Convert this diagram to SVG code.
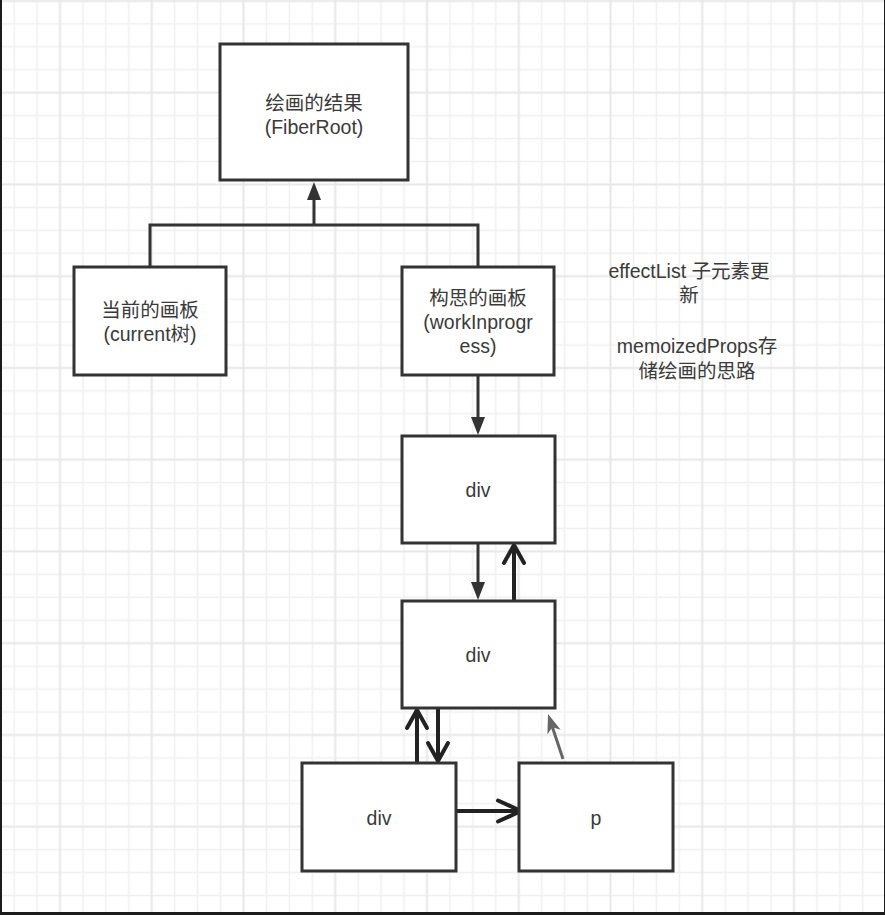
<svg xmlns="http://www.w3.org/2000/svg" width="885" height="915" viewBox="0 0 885 915">
  <defs>
    <pattern id="grid" patternUnits="userSpaceOnUse" x="2.65" y="35.35" width="91.75" height="91.75">
      <path d="M11.47,0V91.75M34.41,0V91.75M80.28,0V91.75M0,11.47H91.75M0,34.41H91.75M0,80.28H91.75" stroke="#f0f0f0" stroke-width="1.5" fill="none"/>
      <path d="M57.35,0V91.75M0,57.35H91.75" stroke="#e7e7e7" stroke-width="2" fill="none"/>
    </pattern>
    <marker id="tri" markerUnits="userSpaceOnUse" markerWidth="40" markerHeight="40" refX="0" refY="0" viewBox="-20 -20 40 40" orient="auto" overflow="visible">
      <path d="M-1,-7 L17,0 L-1,7 Z" fill="#333"/>
    </marker>
    <marker id="open" markerUnits="userSpaceOnUse" markerWidth="60" markerHeight="60" refX="0" refY="0" viewBox="-30 -30 60 60" orient="auto" overflow="visible">
      <path d="M-18,-10 L0,0 L-18,10" fill="none" stroke="#222" stroke-width="4" stroke-linecap="round" stroke-linejoin="round"/>
    </marker>
    <marker id="openL" markerUnits="userSpaceOnUse" markerWidth="60" markerHeight="60" refX="0" refY="0" viewBox="-30 -30 60 60" orient="auto" overflow="visible">
      <path d="M-23,-10.5 L0,0 L-23,10.5" fill="none" stroke="#222" stroke-width="4" stroke-linecap="round" stroke-linejoin="round"/>
    </marker>
    <marker id="dart" markerUnits="userSpaceOnUse" markerWidth="40" markerHeight="40" refX="0" refY="0" viewBox="-20 -20 40 40" orient="auto" overflow="visible">
      <path d="M10,0 L-9,-7 L-4,0 L-9,7 Z" fill="#666"/>
    </marker>
  </defs>
  <style>
    .box { fill: #ffffff; stroke: #333333; stroke-width: 3; }
    .lbl { font-family: "Liberation Sans", "Noto Sans CJK SC", sans-serif; font-size: 19.5px; fill: #3a3a3a; text-anchor: middle; }
    .ln { fill: none; stroke: #333333; stroke-width: 3; }
    .thick { fill: none; stroke: #222222; stroke-width: 4; }
  </style>

  <rect x="0" y="0" width="885" height="915" fill="#ffffff"/>
  <rect x="0" y="0" width="885" height="915" fill="url(#grid)"/>

  <g id="connectors">
    <polyline class="ln" points="150,267 150,225 478,225 478,267"/>
    <line class="ln" x1="314" y1="225" x2="314" y2="199" marker-end="url(#tri)"/>
    <line class="ln" x1="478" y1="375" x2="478" y2="418" marker-end="url(#tri)"/>
    <line class="ln" x1="478" y1="543" x2="478" y2="583" marker-end="url(#tri)"/>
    <line class="thick" x1="514" y1="601" x2="514" y2="545" marker-end="url(#open)"/>
    <line class="thick" x1="417" y1="763" x2="417" y2="710" marker-end="url(#open)"/>
    <line class="thick" x1="438" y1="708" x2="438" y2="761" marker-end="url(#open)"/>
    <line class="thick" x1="453" y1="811" x2="521" y2="811" marker-end="url(#openL)"/>
    <line x1="563" y1="759" x2="551.2" y2="723.5" stroke="#666666" stroke-width="3" marker-end="url(#dart)"/>
  </g>

  <g id="fiberroot">
    <rect class="box" x="220" y="44" width="188" height="136"/>
    <text class="lbl" x="314" y="110">绘画的结果</text>
    <text class="lbl" x="314" y="134">(FiberRoot)</text>
  </g>
  <g id="current">
    <rect class="box" x="74" y="267" width="152" height="108"/>
    <text class="lbl" x="150" y="317">当前的画板</text>
    <text class="lbl" x="150" y="341">(current树)</text>
  </g>
  <g id="workinprogress">
    <rect class="box" x="402" y="267" width="152" height="108"/>
    <text class="lbl" x="478" y="305">构思的画板</text>
    <text class="lbl" x="478" y="329">(workInprogr</text>
    <text class="lbl" x="478" y="353">ess)</text>
  </g>
  <g id="div1">
    <rect class="box" x="402" y="436" width="153" height="107"/>
    <text class="lbl" x="478" y="497">div</text>
  </g>
  <g id="div2">
    <rect class="box" x="402" y="601" width="153" height="107"/>
    <text class="lbl" x="478" y="662">div</text>
  </g>
  <g id="div3">
    <rect class="box" x="302" y="763" width="154" height="108"/>
    <text class="lbl" x="379" y="825">div</text>
  </g>
  <g id="p">
    <rect class="box" x="519" y="763" width="154" height="108"/>
    <text class="lbl" x="596" y="825">p</text>
  </g>
  <g id="note-effectlist">
    <text class="lbl" x="689" y="278">effectList 子元素更</text>
    <text class="lbl" x="689" y="302">新</text>
  </g>
  <g id="note-memoized">
    <text class="lbl" x="697" y="353">memoizedProps存</text>
    <text class="lbl" x="697" y="378">储绘画的思路</text>
  </g>

  <g id="frame">
    <rect x="0" y="0" width="2" height="915" fill="#1c1c1c"/>
    <rect x="884" y="0" width="1" height="915" fill="#1c1c1c"/>
    <rect x="0" y="912" width="885" height="3" fill="#1c1c1c"/>
  </g>
</svg>
